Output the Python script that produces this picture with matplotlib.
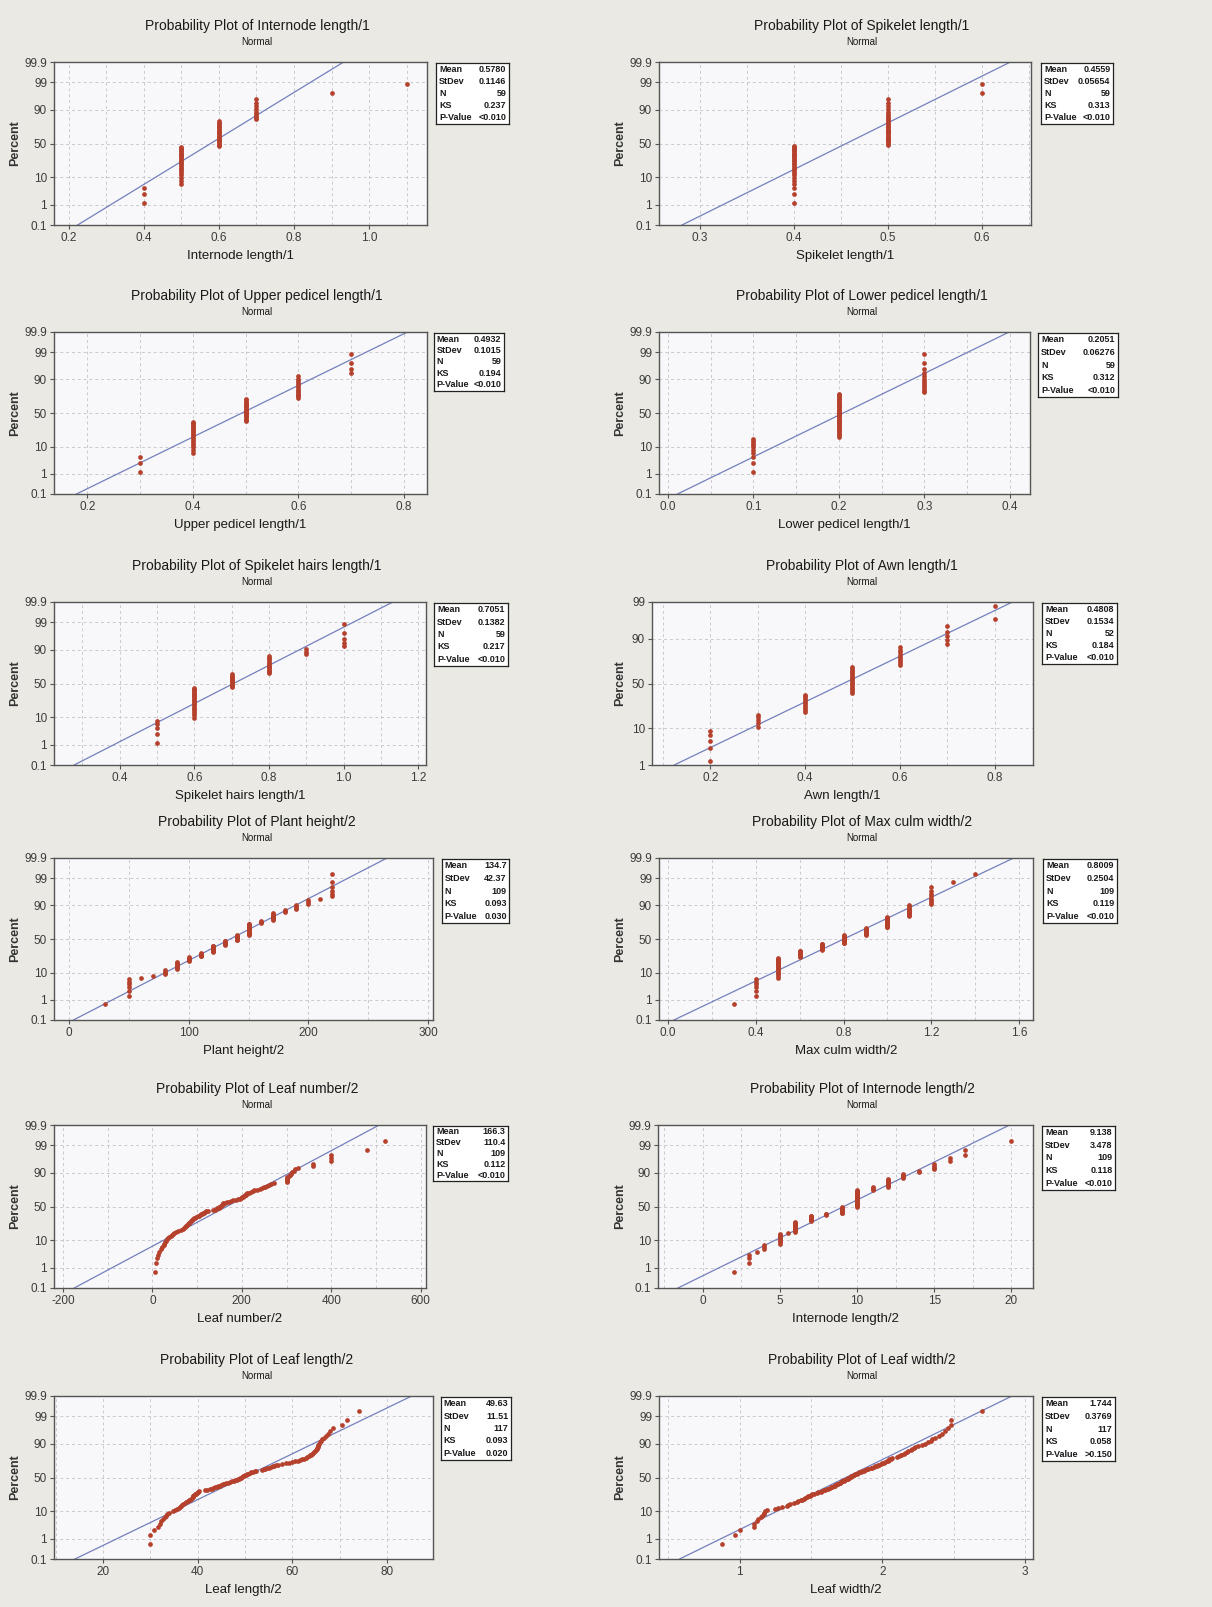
"""
Normal probability plots for the twelve morphological traits (Minitab style).
Writes: out.png
"""
from statistics import NormalDist

import numpy as np
import matplotlib
matplotlib.use("Agg")
import matplotlib.pyplot as plt

W, H = 1212, 1607
BG = "#eae9e4"
PLOT_BG = "#f8f8fb"
TEXT = "#1a1a1a"
TICK = "#3c3c3c"
DOT = "#b5402c"
LINE = "#7480bb"
GRID = "#c9c9cf"

plt.rcParams.update({
    "font.family": ["Liberation Sans", "DejaVu Sans"],
    "axes.unicode_minus": False,
})

ND = NormalDist()

# ---- data: discrete traits as value / count pairs ----
INTERNODE1_VALUES = [0.4, 0.5, 0.6, 0.7, 0.9, 1.1]
INTERNODE1_COUNTS = [3, 24, 21, 9, 1, 1]

SPIKELET_VALUES = [0.4, 0.5, 0.6]
SPIKELET_COUNTS = [28, 29, 2]

UPPER_PEDICEL_VALUES = [0.3, 0.4, 0.5, 0.6, 0.7]
UPPER_PEDICEL_COUNTS = [3, 19, 20, 13, 4]

LOWER_PEDICEL_VALUES = [0.1, 0.2, 0.3]
LOWER_PEDICEL_COUNTS = [10, 36, 13]

HAIRS_VALUES = [0.5, 0.6, 0.7, 0.8, 0.9, 1.0]
HAIRS_COUNTS = [5, 21, 12, 13, 3, 5]

AWN_VALUES = [0.2, 0.3, 0.4, 0.5, 0.6, 0.7, 0.8]
AWN_COUNTS = [5, 5, 10, 16, 9, 5, 2]

PLANT_HEIGHT_VALUES = [30, 50, 60, 70, 80, 90, 100, 110, 120, 130,
                       140, 150, 160, 170, 180, 190, 200, 210, 220]
PLANT_HEIGHT_COUNTS = [1, 6, 1, 1, 4, 8, 6, 6, 11, 8,
                       9, 18, 4, 9, 3, 4, 3, 1, 6]

CULM_WIDTH_VALUES = [0.3, 0.4, 0.5, 0.6, 0.7, 0.8, 0.9, 1.0, 1.1, 1.2, 1.3, 1.4]
CULM_WIDTH_COUNTS = [1, 6, 19, 10, 11, 14, 12, 15, 11, 8, 1, 1]

INTERNODE2_VALUES = [2, 3, 3.5, 4, 5, 5.5, 6, 7, 8, 9, 10,
                     11, 12, 13, 14, 15, 16, 17, 20]
INTERNODE2_COUNTS = [1, 3, 1, 3, 9, 1, 13, 9, 3, 11, 26,
                     4, 9, 5, 2, 4, 2, 2, 1]

# ---- data: continuous traits, sorted observations ----
LEAF_NUMBER = [
    5, 8, 10, 12, 15, 19, 22, 25, 27, 29,
    31, 33, 35, 38, 41, 43, 46, 49, 52, 58,
    63, 68, 71, 73, 75, 76, 78, 80, 81, 82,
    84, 86, 88, 89, 90, 92, 95, 98, 101, 104,
    107, 109, 111, 113, 115, 117, 119, 125, 135, 140,
    142, 145, 148, 150, 151, 153, 155, 156, 158, 159,
    162, 168, 172, 176, 180, 186, 192, 196, 199, 200,
    202, 205, 207, 209, 210, 212, 216, 220, 224, 228,
    235, 240, 245, 249, 253, 257, 261, 266, 272,
    300, 300, 300, 300, 300, 300,
    305, 308, 310, 313, 316, 320, 325,
    360, 360, 400, 400, 400, 480, 520,
]

LEAF_LENGTH = [
    30.0, 30.0, 30.8, 31.5, 32.0, 32.3, 32.6, 33.0, 33.3, 33.6,
    34.0, 34.8, 35.2, 35.6, 36.0, 36.2, 36.5, 36.7, 36.9, 37.3,
    37.6, 38.0, 38.2, 38.4, 38.6, 38.8, 38.9, 39.0, 39.1, 39.2,
    39.4, 39.6, 39.8, 40.0, 40.1, 40.3, 41.5, 42.0, 42.5, 43.0,
    43.3, 43.6, 44.0, 44.3, 44.6, 45.0, 45.3, 45.6, 46.0, 46.4,
    46.8, 47.3, 47.6, 47.9, 48.2, 48.5, 48.7, 49.0, 49.2, 49.4,
    49.6, 49.8, 50.0, 50.2, 50.4, 50.7, 51.0, 51.3, 51.6, 52.0,
    52.4, 53.5, 54.0, 54.3, 54.6, 55.0, 55.4, 55.8, 56.2, 56.6,
    57.0, 57.8, 58.6, 59.3, 60.0, 60.6, 61.2, 61.6, 62.0, 62.4,
    62.8, 63.1, 63.4, 63.7, 64.0, 64.2, 64.4, 64.6, 64.8, 65.0,
    65.1, 65.2, 65.3, 65.4, 65.5, 65.6, 65.8, 66.0, 66.3, 66.6,
    67.0, 67.5, 68.0, 68.5, 70.5, 71.6, 74.0,
]

LEAF_WIDTH = [
    0.88, 0.97, 1.00, 1.10, 1.10, 1.12, 1.13, 1.15, 1.16, 1.17,
    1.17, 1.18, 1.19, 1.25, 1.27, 1.30, 1.33, 1.34, 1.35, 1.38,
    1.40, 1.41, 1.43, 1.44, 1.45, 1.46, 1.47, 1.48, 1.49, 1.50,
    1.51, 1.52, 1.54, 1.55, 1.57, 1.58, 1.59, 1.60, 1.61, 1.62,
    1.63, 1.64, 1.65, 1.66, 1.67, 1.67, 1.68, 1.69, 1.70, 1.70,
    1.71, 1.72, 1.73, 1.73, 1.74, 1.75, 1.76, 1.76, 1.77, 1.78,
    1.78, 1.79, 1.80, 1.80, 1.81, 1.82, 1.83, 1.84, 1.85, 1.86,
    1.87, 1.88, 1.89, 1.90, 1.92, 1.93, 1.94, 1.95, 1.96, 1.97,
    1.98, 1.99, 2.00, 2.01, 2.02, 2.03, 2.04, 2.05, 2.05, 2.06,
    2.07, 2.10, 2.12, 2.13, 2.13, 2.15, 2.16, 2.17, 2.18, 2.20,
    2.21, 2.22, 2.23, 2.25, 2.28, 2.30, 2.32, 2.34, 2.35, 2.37,
    2.40, 2.42, 2.44, 2.46, 2.48, 2.48, 2.70,
]

# ---- summary statistics printed in each legend box ----
TRAITS = ["Internode length/1", "Spikelet length/1",
          "Upper pedicel length/1", "Lower pedicel length/1",
          "Spikelet hairs length/1", "Awn length/1",
          "Plant height/2", "Max culm width/2",
          "Leaf number/2", "Internode length/2",
          "Leaf length/2", "Leaf width/2"]
MEAN_TXT = ["0.5780", "0.4559", "0.4932", "0.2051", "0.7051", "0.4808",
            "134.7", "0.8009", "166.3", "9.138", "49.63", "1.744"]
STDEV_TXT = ["0.1146", "0.05654", "0.1015", "0.06276", "0.1382", "0.1534",
             "42.37", "0.2504", "110.4", "3.478", "11.51", "0.3769"]
N_TXT = ["59", "59", "59", "59", "59", "52",
         "109", "109", "109", "109", "117", "117"]
KS_TXT = ["0.237", "0.313", "0.194", "0.312", "0.217", "0.184",
          "0.093", "0.119", "0.112", "0.118", "0.093", "0.058"]
PVAL_TXT = ["<0.010", "<0.010", "<0.010", "<0.010", "<0.010", "<0.010",
            "0.030", "<0.010", "<0.010", "<0.010", "0.020", ">0.150"]

SAMPLES = [
    np.repeat(INTERNODE1_VALUES, INTERNODE1_COUNTS),
    np.repeat(SPIKELET_VALUES, SPIKELET_COUNTS),
    np.repeat(UPPER_PEDICEL_VALUES, UPPER_PEDICEL_COUNTS),
    np.repeat(LOWER_PEDICEL_VALUES, LOWER_PEDICEL_COUNTS),
    np.repeat(HAIRS_VALUES, HAIRS_COUNTS),
    np.repeat(AWN_VALUES, AWN_COUNTS),
    np.repeat(PLANT_HEIGHT_VALUES, PLANT_HEIGHT_COUNTS),
    np.repeat(CULM_WIDTH_VALUES, CULM_WIDTH_COUNTS),
    np.array(LEAF_NUMBER, dtype=float),
    np.repeat(INTERNODE2_VALUES, INTERNODE2_COUNTS),
    np.array(LEAF_LENGTH),
    np.array(LEAF_WIDTH),
]

# ---- axis scales: (xmin, xmax, ticks, tick format, grid step) ----
X_SCALES = [
    (0.161, 1.154, [0.2, 0.4, 0.6, 0.8, 1.0], "{:.1f}", 0.1),
    (0.2567, 0.6525, [0.3, 0.4, 0.5, 0.6], "{:.1f}", 0.05),
    (0.137, 0.844, [0.2, 0.4, 0.6, 0.8], "{:.1f}", 0.1),
    (-0.0105, 0.4234, [0.0, 0.1, 0.2, 0.3, 0.4], "{:.1f}", 0.05),
    (0.224, 1.221, [0.4, 0.6, 0.8, 1.0, 1.2], "{:.1f}", 0.1),
    (0.077, 0.881, [0.2, 0.4, 0.6, 0.8], "{:.1f}", 0.1),
    (-12.5, 304, [0, 100, 200, 300], "{:.0f}", 50),
    (-0.041, 1.663, [0.0, 0.4, 0.8, 1.2, 1.6], "{:.1f}", 0.2),
    (-220, 612, [-200, 0, 200, 400, 600], "{:.0f}", 100),
    (-2.9, 21.4, [0, 5, 10, 15, 20], "{:.0f}", 2.5),
    (9.63, 89.7, [20, 40, 60, 80], "{:.0f}", 10),
    (0.435, 3.056, [1, 2, 3], "{:.0f}", 0.5),
]
PCT_FULL = [0.1, 1, 10, 50, 90, 99, 99.9]
PCT_AWN = [1, 10, 50, 90, 99]

# ---- layout in pixels: frame (x0, x1), row (y0, y1), legend box (x0, x1) and height ----
ROWS = [(62, 225), (332, 494), (602, 765), (858, 1020), (1125, 1288), (1396, 1559)]
FRAMES_X = [(54, 427), (659, 1031), (54, 427), (659, 1030), (54, 426), (652, 1033),
            (54, 433), (659, 1033), (54, 426), (658, 1033), (54, 433), (659, 1033)]
BOX_X = [(436, 509), (1041, 1113), (434, 504), (1038, 1118), (434, 508), (1042, 1117),
         (442, 509), (1043, 1117), (433, 508), (1042, 1115), (441, 511), (1042, 1115)]
BOX_H = [61, 61, 58, 64, 63, 61, 64, 64, 55, 64, 63, 64]


def fx(px):
    return px / W


def fy(py):
    return 1 - py / H


def draw_legend_box(fig, k, top):
    x0, x1 = BOX_X[k]
    box = fig.add_axes([fx(x0), fy(top + BOX_H[k]), (x1 - x0) / W, BOX_H[k] / H])
    box.set_facecolor("white")
    box.set_xticks([])
    box.set_yticks([])
    for s in box.spines.values():
        s.set_color("#222222")
        s.set_linewidth(0.9)
    rows = [("Mean", MEAN_TXT[k]), ("StDev", STDEV_TXT[k]), ("N", N_TXT[k]),
            ("KS", KS_TXT[k]), ("P-Value", PVAL_TXT[k])]
    for i, (lab, val) in enumerate(rows):
        y = 1 - (i + 0.55) / 5.1
        box.text(0.04, y, lab, transform=box.transAxes, ha="left", va="center",
                 fontsize=6.5, fontweight="bold", color=TEXT)
        box.text(0.965, y, val, transform=box.transAxes, ha="right", va="center",
                 fontsize=6.5, fontweight="bold", color=TEXT)


def draw_panel(fig, k):
    col = k % 2
    y0, y1 = ROWS[k // 2]
    x0, x1 = FRAMES_X[k]
    ax = fig.add_axes([fx(x0), fy(y1), (x1 - x0) / W, (y1 - y0) / H])
    ax.set_facecolor(PLOT_BG)

    pcts = PCT_AWN if k == 5 else PCT_FULL
    zlo, zhi = ND.inv_cdf(pcts[0] / 100), ND.inv_cdf(pcts[-1] / 100)
    xmin, xmax, xticks, fmt, step = X_SCALES[k]

    # dashed reference grid
    gx = np.arange(np.ceil(xmin / step) * step, xmax, step)
    for g in gx:
        ax.axvline(g, color=GRID, lw=0.7, ls=(0, (3, 3)), zorder=0)
    for p in pcts[1:-1]:
        ax.axhline(ND.inv_cdf(p / 100), color=GRID, lw=0.7, ls=(0, (3, 3)), zorder=0)

    # fitted normal line from the reported mean and standard deviation
    mu, sd = float(MEAN_TXT[k]), float(STDEV_TXT[k])
    ax.plot([mu + sd * zlo, mu + sd * zhi], [zlo, zhi], color=LINE, lw=0.9, zorder=2)

    # median-rank plotting positions
    data = np.sort(SAMPLES[k])
    n = len(data)
    pos = (np.arange(1, n + 1) - 0.3) / (n + 0.4)
    z = [ND.inv_cdf(p) for p in pos]
    ax.plot(data, z, "o", ms=3.4, color=DOT, mec="none", zorder=3, clip_on=False)

    ax.set_xlim(xmin, xmax)
    ax.set_ylim(zlo, zhi)
    ax.set_xticks(xticks)
    ax.set_xticklabels([fmt.format(t) for t in xticks])
    ax.set_yticks([ND.inv_cdf(p / 100) for p in pcts])
    ax.set_yticklabels([f"{p:g}" for p in pcts])
    ax.tick_params(axis="both", direction="out", length=3, width=0.8, color="#555555",
                   labelsize=8.5, labelcolor=TICK, pad=2)
    for s in ax.spines.values():
        s.set_color("#555555")
        s.set_linewidth(1.0)

    title_x = 257 if col == 0 else 862
    fig.text(fx(title_x), fy(y0 - 36), f"Probability Plot of {TRAITS[k]}",
             ha="center", va="center", fontsize=10, color=TEXT)
    fig.text(fx(title_x), fy(y0 - 20), "Normal", ha="center", va="center",
             fontsize=7, color=TEXT)
    fig.text(fx((x0 + x1) / 2), fy(y1 + 31), TRAITS[k], ha="center", va="center",
             fontsize=9.5, color=TEXT)
    fig.text(fx(15 if col == 0 else 620), fy((y0 + y1) / 2), "Percent", rotation=90,
             ha="center", va="center", fontsize=9, fontweight="bold", color="#333333")

    draw_legend_box(fig, k, y0 + 1)


def main():
    fig = plt.figure(figsize=(W / 100, H / 100), dpi=100, facecolor=BG)
    for k in range(len(TRAITS)):
        draw_panel(fig, k)
    fig.savefig("out.png", dpi=100, facecolor=BG)
    plt.close(fig)


if __name__ == "__main__":
    main()
